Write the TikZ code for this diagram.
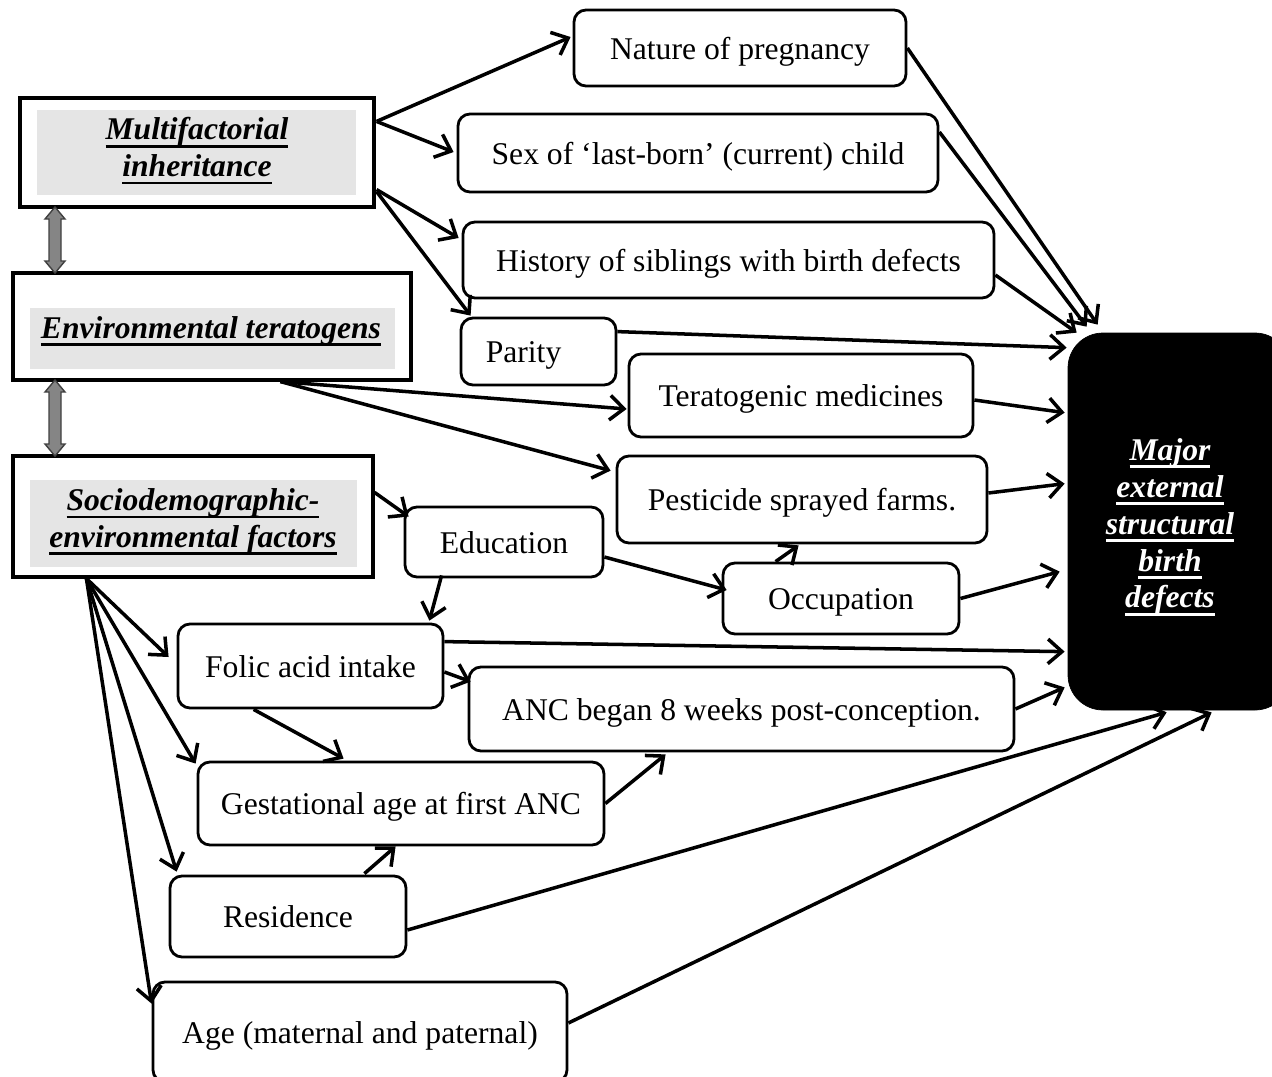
\documentclass[tikz,border=0pt]{standalone}
\usepackage{fontspec}
\setmainfont{Liberation Serif}
\usetikzlibrary{arrows.meta,calc}
\newsavebox\ulbox
\newcommand\ulx[1]{\sbox\ulbox{#1}\rlap{\rule[-4.4pt]{\wd\ulbox}{1.6pt}}\usebox\ulbox}
\newcommand\bx[7]{\node[#1, minimum width={(#4-#2)*0.02cm}, minimum height={(#5-#3)*0.02cm}] (#6) at ({(#2+#4)/2},{(#3+#5)/2}) {#7};}
\newcommand\dblarr[3]{\filldraw[dblstyle] (#1,#2) -- (#1+10,#2+12) -- (#1+6,#2+12) -- (#1+6,#3-12) -- (#1+10,#3-12) -- (#1,#3) -- (#1-10,#3-12) -- (#1-6,#3-12) -- (#1-6,#2+12) -- (#1-10,#2+12) -- cycle;}
\tikzset{
  rbox/.style={draw, line width=1.6pt, rounded corners=0.24cm, inner sep=0pt, text height=13pt, text depth=0pt, font=\fontsize{18}{21}\selectfont},
  sqbox/.style={draw, line width=1.8pt, inner sep=0pt, fill=white},
  gbox/.style={fill=gray!20, inner sep=0pt},
  lbl/.style={inner sep=0pt, align=center, font=\fontsize{18}{21}\selectfont\bfseries\itshape},
  majbox/.style={fill=black, draw=black, rounded corners=0.7cm, inner sep=0pt},
  majtext/.style={inner sep=0pt, align=center, text=white, font=\fontsize{18}{21}\selectfont\bfseries\itshape},
  arr/.style={line width=2pt, -{Straight Barb[length=8pt,width=14pt]}},
  dblstyle/.style={fill=black!48, draw=black!75, line width=0.8pt}
}
\begin{document}
\begin{tikzpicture}[x=0.02cm,y=-0.02cm]
\useasboundingbox (0,0) rectangle (1272,1076);
% left factor boxes
\bx{sqbox}{20}{98}{374}{207}{mf}{}
\bx{gbox}{37}{110}{356}{195}{mfg}{}
\node[lbl] (mft) at (197,151) {\ulx{Multifactorial}\\\ulx{inheritance}};
\bx{sqbox}{13}{273}{411}{380}{env}{}
\bx{gbox}{30}{308}{395}{369}{envg}{}
\node[lbl] (envt) at (211,331) {\ulx{Environmental teratogens}};
\bx{sqbox}{13}{456}{373}{577}{soc}{}
\bx{gbox}{30}{480}{357}{567}{socg}{}
\node[lbl] (soct) at (193,522) {\ulx{Sociodemographic-}\\\ulx{environmental factors}};
\dblarr{55}{207}{273}
\dblarr{55}{380}{456}
% outcome
\bx{majbox}{1068}{333}{1290}{710}{maj}{}
\node[majtext] (majt) at (1170,527) {\ulx{Major}\\\ulx{external}\\\ulx{structural}\\\ulx{birth}\\\ulx{defects}};
% factor nodes
\bx{rbox}{574}{10}{906}{86}{nat}{Nature of pregnancy}
\bx{rbox}{458}{114}{938}{192}{sex}{Sex of ‘last-born’ (current) child}
\bx{rbox}{463}{222}{994}{298}{his}{History of siblings with birth defects}
\bx{rbox}{461}{318}{616}{385}{par}{Parity\rule{17pt}{0pt}}
\bx{rbox}{629}{354}{973}{437}{ter}{Teratogenic medicines}
\bx{rbox}{617}{456}{987}{543}{pes}{Pesticide sprayed farms.}
\bx{rbox}{405}{507}{603}{577}{edu}{Education}
\bx{rbox}{723}{563}{959}{634}{occ}{Occupation}
\bx{rbox}{178}{624}{443}{708}{fol}{Folic acid intake}
\bx{rbox}{469}{667}{1014}{751}{anc}{ANC began 8 weeks post-conception.}
\bx{rbox}{198}{762}{604}{845}{ges}{Gestational age at first ANC}
\bx{rbox}{170}{876}{406}{957}{res}{Residence}
\bx{rbox}{153}{982}{567}{1082}{age}{Age (maternal and paternal)}
% connectors from multifactorial
\draw[arr] ($(mf.north east)+(1,25)$) -- ($(nat.west)+(-2,-11)$);
\draw[arr] ($(mf.north east)+(1,25)$) -- ($(sex.west)+(-3,-1)$);
\draw[arr] ($(mf.south east)+(1,-19)$) -- ($(his.west)+(-3,-22)$);
\draw[arr] ($(mf.south east)+(1,-17)$) -- ($(par.north west)+(11,-1)$);
% from environmental teratogens
\draw[arr] ($(env.south west)+(269,0)$) -- ($(ter.west)+(-1,13.5)$);
\draw[arr] ($(env.south west)+(269,0)$) -- ($(pes.north west)+(-5,16)$);
% from sociodemographic
\draw[arr] ($(soc.north east)+(0,38)$) -- ($(edu.north west)+(5,11)$);
\draw[arr] ($(soc.south west)+(75,0)$) -- ($(fol.west)+(-8,-9)$);
\draw[arr] ($(soc.south west)+(75,0)$) -- ($(ges.north west)+(-1,3)$);
\draw[arr] ($(soc.south west)+(75,0)$) -- ($(res.north west)+(8,-3)$);
\draw[arr] ($(soc.south west)+(75,0)$) -- ($(age.north west)+(0,23)$);
% among factors
\draw[arr] ($(edu.south west)+(38,-3)$) -- ($(fol.north east)+(-15,-2)$);
\draw[arr] ($(edu.east)+(0,15)$) -- ($(occ.west)+(5,-8.5)$);
\draw[arr] ($(occ.north west)+(54,0)$) -- ($(pes.south west)+(183,1)$);
\draw[arr] ($(fol.east)+(0,6)$) -- ($(anc.north west)+(3,16)$);
\draw[arr] ($(fol.south west)+(77,0)$) -- ($(ges.north west)+(147,-2)$);
\draw[arr] ($(res.north east)+(-43,-1)$) -- ($(ges.south west)+(199,0)$);
\draw[arr] (ges.east) -- ($(anc.south west)+(198,2)$);
% into outcome
\draw[arr] (nat.east) -- ($(maj.north west)+(30,-8)$);
\draw[arr] ($(sex.east)+(0,-21)$) -- ($(maj.north west)+(19,-6)$);
\draw[arr] ($(his.east)+(0,15)$) -- ($(maj.north west)+(9,0)$);
\draw[arr] ($(par.north east)+(0,15)$) -- ($(maj.north west)+(-1,15)$);
\draw[arr] ($(ter.east)+(0,4.5)$) -- ($(maj.north west)+(-3,80)$);
\draw[arr] ($(pes.east)+(0,-6.5)$) -- ($(maj.north west)+(-3,151)$);
\draw[arr] (occ.east) -- ($(maj.north west)+(-8,239)$);
\draw[arr] ($(fol.north east)+(0,19)$) -- ($(maj.north west)+(-3,319)$);
\draw[arr] (anc.east) -- ($(maj.south west)+(-3,-23)$);
\draw[arr] ($(res.east)+(0,13.5)$) -- ($(maj.south west)+(99,2)$);
\draw[arr] ($(age.east)+(0,-9)$) -- ($(maj.south west)+(144,2)$);
\end{tikzpicture}
\end{document}
